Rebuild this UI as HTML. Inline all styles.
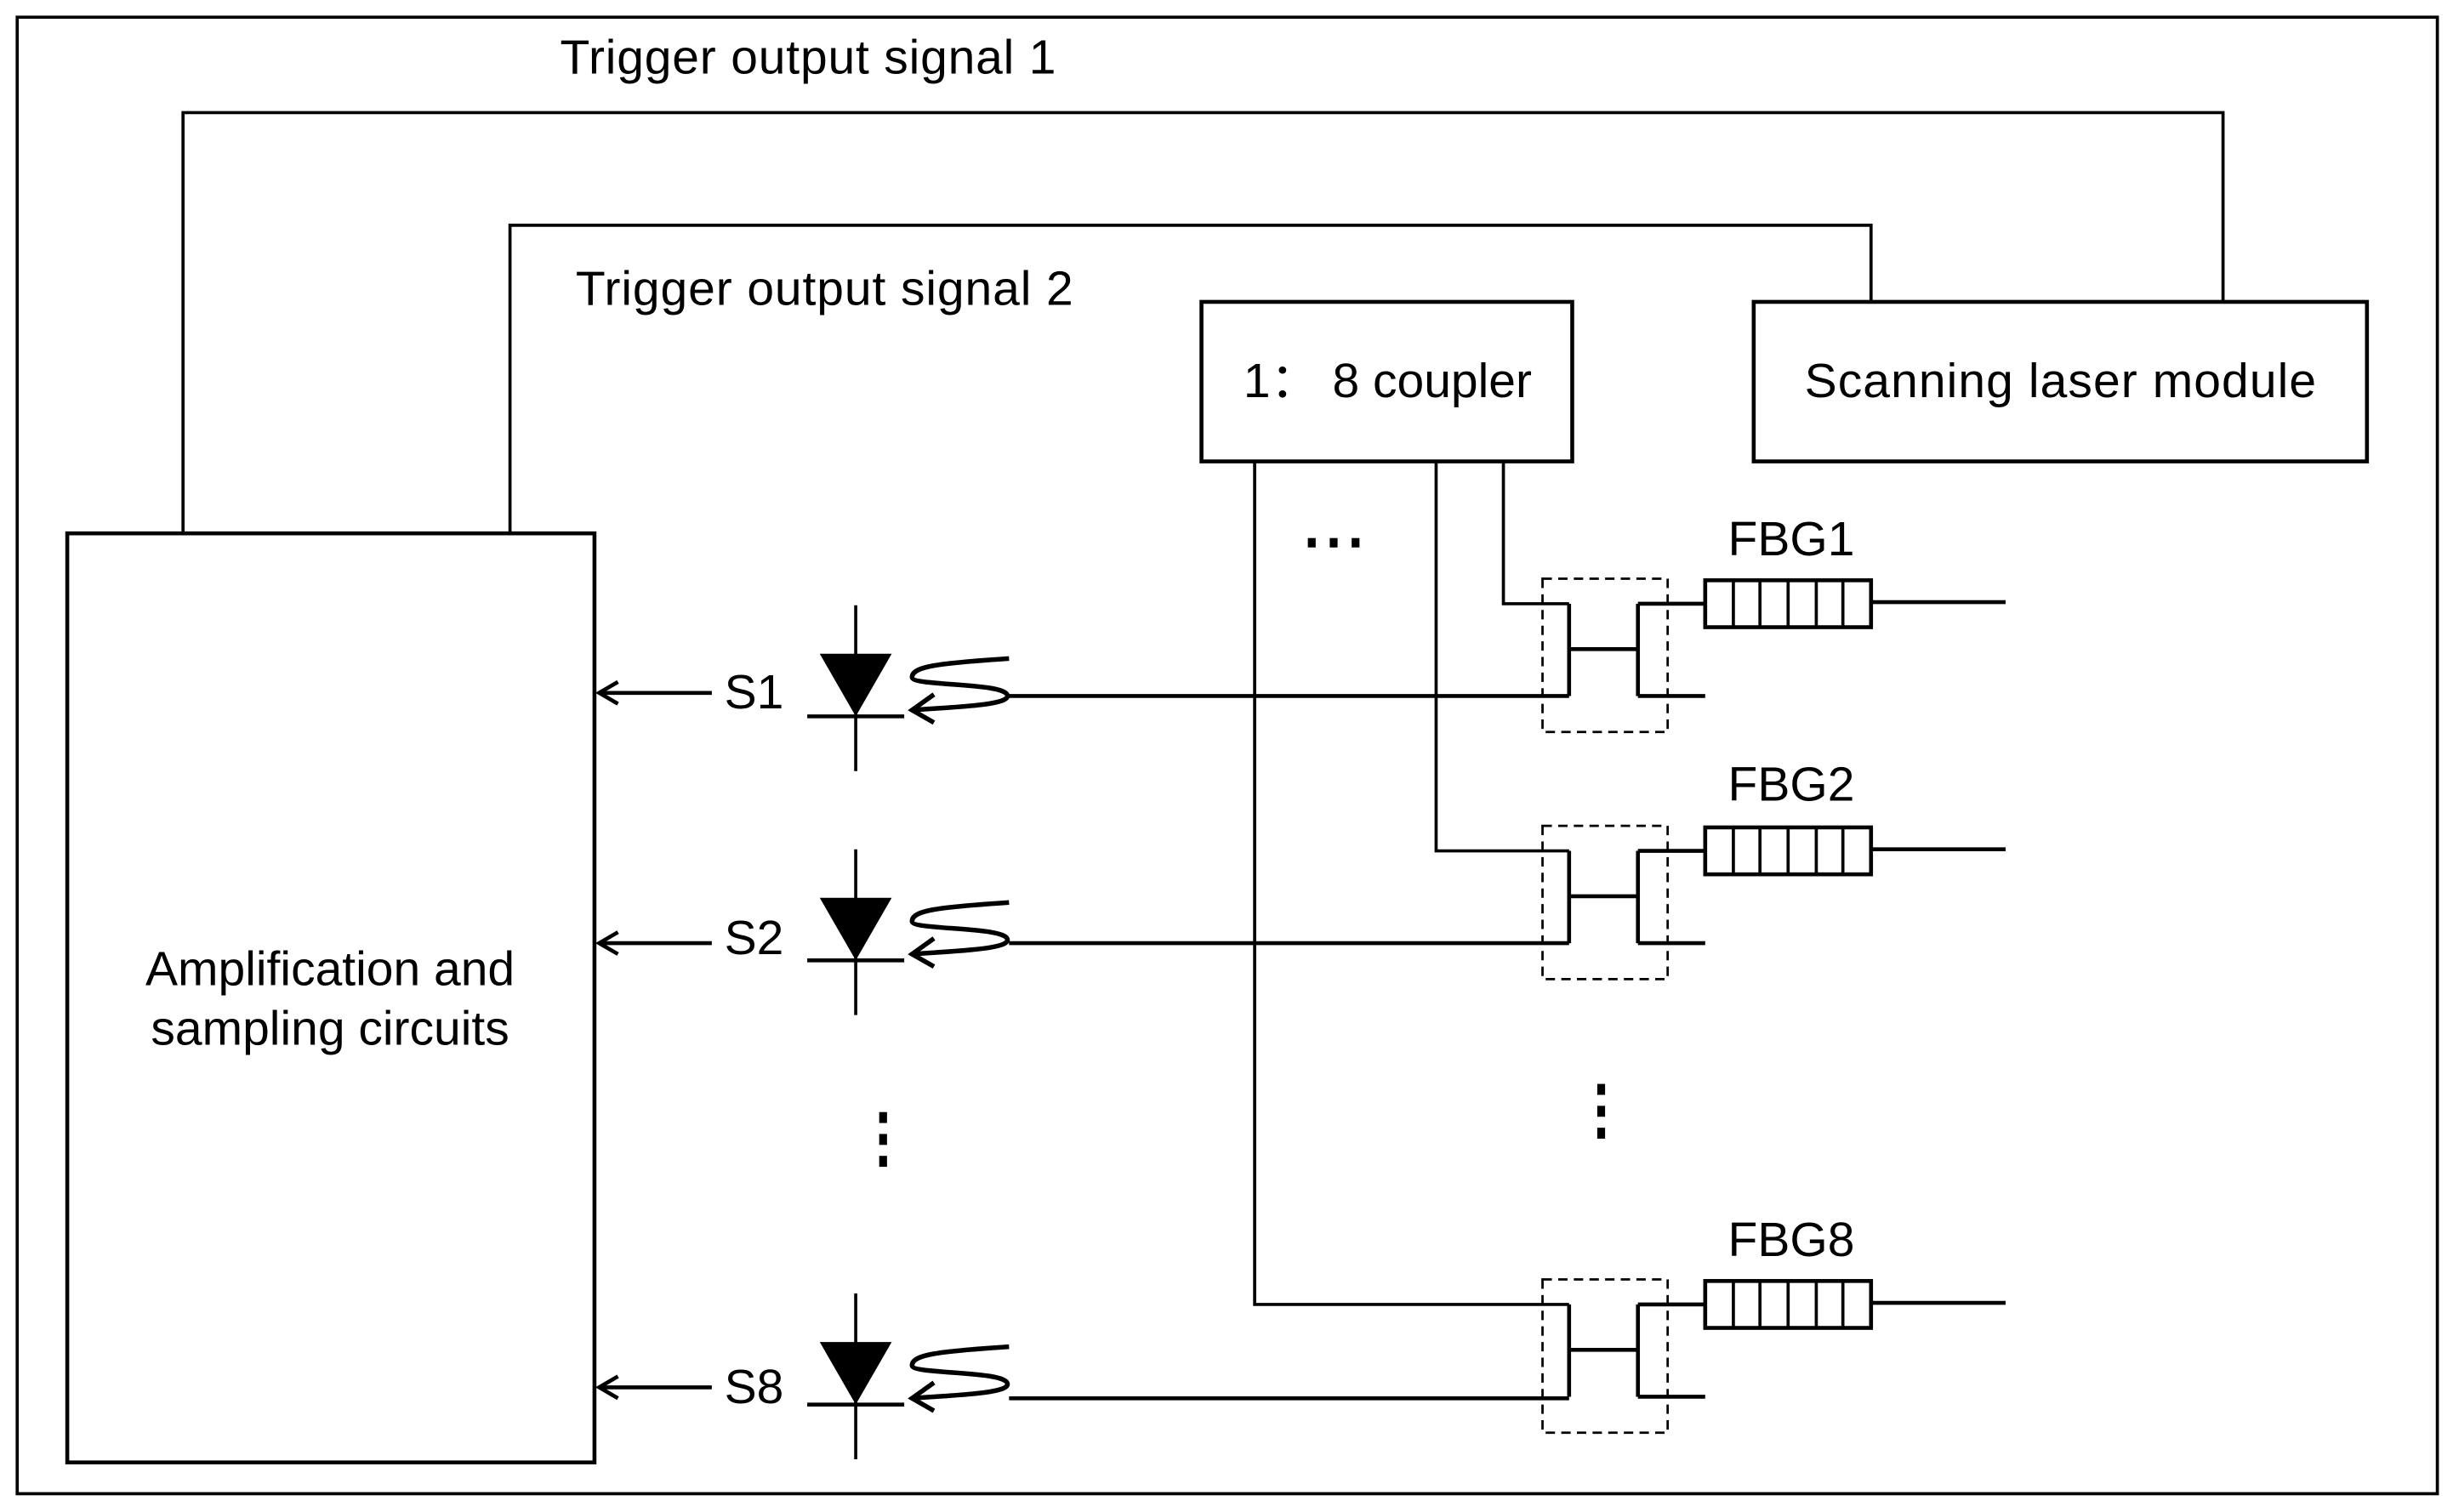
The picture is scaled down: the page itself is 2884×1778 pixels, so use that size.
<!DOCTYPE html>
<html><head><meta charset="utf-8"><style>
html,body{margin:0;padding:0;background:#fff;}
svg{display:block;}
text{font-family:"Liberation Sans",Arial,sans-serif;fill:#000;}
</style></head><body>
<svg width="2884" height="1778" viewBox="0 0 1568 966.7" preserveAspectRatio="none" xmlns="http://www.w3.org/2000/svg">
<defs>
<g id="pd">
  <line x1="547" y1="-71" x2="547" y2="35" stroke="#000" stroke-width="2"/>
  <polygon points="524,-40 570,-40 547,0" fill="#000"/>
  <line x1="516" y1="0" x2="578" y2="0" stroke="#000" stroke-width="2.5"/>
  <path d="M645,-37 C600,-34 583,-32 583,-25 C583,-19 644,-22 644,-13 C644,-7 610,-6 583,-4" fill="none" stroke="#000" stroke-width="3"/>
  <path d="M597,-14 L583,-4 L597,4" fill="none" stroke="#000" stroke-width="3"/>
</g>
<g id="cp">
  <rect x="986" y="-16" width="80" height="98" fill="none" stroke="#000" stroke-width="1.5" stroke-dasharray="6,4"/>
  <path d="M1003,0 V59 M1047,0 V59 M1003,29 H1047 M1047,0 H1090 M1047,59 H1090" fill="none" stroke="#000" stroke-width="2.5"/>
  <rect x="1090" y="-15" width="106" height="30" fill="none" stroke="#000" stroke-width="2.5"/>
  <path d="M1108,-15 V15 M1125,-15 V15 M1143,-15 V15 M1161,-15 V15 M1178,-15 V15" stroke="#000" stroke-width="2"/>
  <line x1="1196" y1="-1" x2="1282" y2="-1" stroke="#000" stroke-width="2.5"/>
</g>
</defs>
<rect x="11" y="11" width="1547" height="944" fill="none" stroke="#000" stroke-width="2"/>
<text x="358" y="47" font-size="31" textLength="317">Trigger output signal 1</text>
<text x="368" y="195" font-size="31" textLength="318">Trigger output signal 2</text>
<path d="M117,341 V72 H1421 V193" fill="none" stroke="#000" stroke-width="2"/>
<path d="M326,341 V144 H1196 V193" fill="none" stroke="#000" stroke-width="2"/>
<rect x="768" y="193" width="237" height="102" fill="none" stroke="#000" stroke-width="2.5"/>
<text x="887" y="254" font-size="31" text-anchor="middle">1：&#160;8 coupler</text>
<rect x="1121" y="193" width="392" height="102" fill="none" stroke="#000" stroke-width="2.5"/>
<text x="1317" y="254" font-size="31" text-anchor="middle" textLength="327">Scanning laser module</text>
<rect x="43" y="341" width="337" height="594" fill="none" stroke="#000" stroke-width="2.5"/>
<text x="211" y="630" font-size="31" text-anchor="middle">Amplification and</text>
<text x="211" y="668" font-size="31" text-anchor="middle">sampling circuits</text>
<path d="M802,295 V834 H1003 M918,295 V544 H1003 M961,295 V386 H1003" fill="none" stroke="#000" stroke-width="2"/>
<g fill="#000">
<rect x="836" y="344" width="5" height="6"/><rect x="850" y="344" width="5" height="6"/><rect x="864" y="344" width="5" height="6"/>
</g>
<use href="#cp" transform="translate(0,386)"/>
<use href="#cp" transform="translate(0,544)"/>
<use href="#cp" transform="translate(0,834)"/>
<text x="1145" y="355" font-size="31" text-anchor="middle">FBG1</text>
<text x="1145" y="512" font-size="31" text-anchor="middle">FBG2</text>
<text x="1145" y="803" font-size="31" text-anchor="middle">FBG8</text>
<path d="M645,445 H1003 M645,603 H1003 M645,894 H1003" stroke="#000" stroke-width="2.5"/>
<use href="#pd" transform="translate(0,458)"/>
<use href="#pd" transform="translate(0,614)"/>
<use href="#pd" transform="translate(0,898)"/>
<g stroke="#000" stroke-width="2.5" fill="none">
<path d="M455,443 H383 M395,436 L383,443 L395,450"/>
<path d="M455,603 H383 M395,596 L383,603 L395,610"/>
<path d="M455,887 H383 M395,880 L383,887 L395,894"/>
</g>
<text x="463" y="453" font-size="31">S1</text>
<text x="463" y="610" font-size="31">S2</text>
<text x="463" y="897" font-size="31">S8</text>
<g fill="#000">
<rect x="562" y="711" width="5" height="7"/><rect x="562" y="725" width="5" height="7"/><rect x="562" y="739" width="5" height="7"/>
<rect x="1021" y="693" width="5" height="7"/><rect x="1021" y="707" width="5" height="7"/><rect x="1021" y="721" width="5" height="7"/>
</g>
</svg>
</body></html>
